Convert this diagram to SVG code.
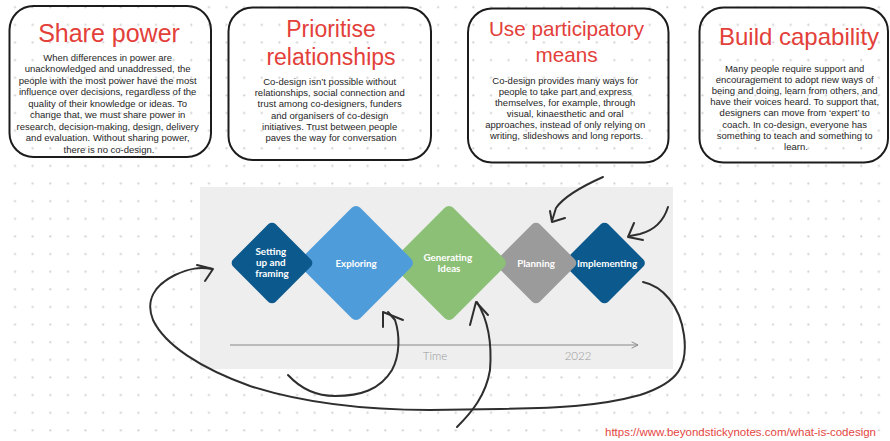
<svg xmlns="http://www.w3.org/2000/svg" width="890" height="441" viewBox="0 0 890 441">
  <defs>
    <pattern id="dots" x="0" y="0" width="17.63" height="17.63" patternUnits="userSpaceOnUse">
      <circle cx="15" cy="7.3" r="1.1" fill="#cfcfcf"/>
    </pattern>
    <marker id="timeHead" viewBox="0 0 10 10" refX="9" refY="5" markerWidth="8" markerHeight="8" orient="auto" markerUnits="userSpaceOnUse">
      <path d="M1,1 L9,5 L1,9" fill="none" stroke="#888" stroke-width="1.2"/>
    </marker>
  </defs>
  <style>
    .card { fill: none; stroke: #1c1c1c; stroke-width: 2; }
    .title { font-family: "Liberation Sans", Arial, sans-serif; fill: #e3403a; text-anchor: middle; }
    .body { font-family: "Liberation Sans", Arial, sans-serif; font-size: 9.5px; fill: #262626; text-anchor: middle; }
    .phase { font-family: Lato, "Open Sans", sans-serif; font-weight: 700; font-size: 9.8px; fill: #ffffff; text-anchor: middle; }
    .axis { font-family: Lato, "Open Sans", sans-serif; font-weight: 300; font-size: 11.5px; fill: #9a9a9a; text-anchor: middle; }
    .ink { fill: none; stroke: #2e2e2e; stroke-width: 2; stroke-linecap: round; stroke-linejoin: round; }
    .dark { fill: #0c5a8d; }
  </style>

  <!-- dotted canvas -->
  <rect width="890" height="441" fill="#ffffff"/>
  <rect width="890" height="441" fill="url(#dots)"/>

  <!-- principle cards -->
  <g id="share-power">
    <rect class="card" x="9.5" y="6" width="201.5" height="151" rx="24"/>
    <text class="title" x="109" y="42" font-size="25">Share power</text>
    <text class="body" x="109">
      <tspan x="109" y="60.5">When differences in power are</tspan>
      <tspan x="109" y="72">unacknowledged and unaddressed, the</tspan>
      <tspan x="109" y="83.5">people with the most power have the most</tspan>
      <tspan x="109" y="95">influence over decisions, regardless of the</tspan>
      <tspan x="109" y="106.5">quality of their knowledge or ideas. To</tspan>
      <tspan x="109" y="118">change that, we must share power in</tspan>
      <tspan x="109" y="129.5">research, decision-making, design, delivery</tspan>
      <tspan x="109" y="141">and evaluation. Without sharing power,</tspan>
      <tspan x="109" y="152.5">there is no co-design.</tspan>
    </text>
  </g>

  <g id="prioritise-relationships">
    <rect class="card" x="228.5" y="7.5" width="202.5" height="152.5" rx="24"/>
    <text class="title" x="331" y="37" font-size="23">Prioritise</text>
    <text class="title" x="331" y="65" font-size="23">relationships</text>
    <text class="body">
      <tspan x="331" y="85">Co-design isn’t possible without</tspan>
      <tspan x="331" y="96.2">relationships, social connection and</tspan>
      <tspan x="331" y="107.4">trust among co-designers, funders</tspan>
      <tspan x="331" y="118.6">and organisers of co-design</tspan>
      <tspan x="331" y="129.8">initiatives. Trust between people</tspan>
      <tspan x="331" y="141">paves the way for conversation</tspan>
    </text>
  </g>

  <g id="participatory-means">
    <rect class="card" x="468" y="8.5" width="200.5" height="154" rx="24"/>
    <text class="title" x="566.5" y="35.5" font-size="20.7">Use participatory</text>
    <text class="title" x="566.5" y="62" font-size="20.7">means</text>
    <text class="body">
      <tspan x="566.5" y="83.5">Co-design provides many ways for</tspan>
      <tspan x="566.5" y="94.6">people to take part and express</tspan>
      <tspan x="566.5" y="105.7">themselves, for example, through</tspan>
      <tspan x="566.5" y="116.8">visual, kinaesthetic and oral</tspan>
      <tspan x="566.5" y="127.9">approaches, instead of only relying on</tspan>
      <tspan x="566.5" y="139">writing, slideshows and long reports.</tspan>
    </text>
  </g>

  <g id="build-capability">
    <rect class="card" x="699.5" y="7.5" width="188.5" height="155" rx="24"/>
    <text class="title" x="799" y="45" font-size="24">Build capability</text>
    <text class="body">
      <tspan x="796" y="71.5">Many people require support and</tspan>
      <tspan x="796" y="82.7">encouragement to adopt new ways of</tspan>
      <tspan x="796" y="93.9">being and doing, learn from others, and</tspan>
      <tspan x="796" y="105.1">have their voices heard. To support that,</tspan>
      <tspan x="796" y="116.3">designers can move from ‘expert’ to</tspan>
      <tspan x="796" y="127.5">coach. In co-design, everyone has</tspan>
      <tspan x="796" y="138.7">something to teach and something to</tspan>
      <tspan x="796" y="149.9">learn.</tspan>
    </text>
  </g>

  <!-- process panel -->
  <g id="process-panel">
    <rect x="200" y="187" width="473" height="182" fill="#eeeeee"/>
    <line x1="230" y1="345" x2="638" y2="345" stroke="#888" stroke-width="1.2" marker-end="url(#timeHead)"/>
    <text class="axis" x="435" y="360">Time</text>
    <text class="axis" x="578" y="360">2022</text>
  </g>

  <!-- phases, drawn back to front so each earlier phase overlaps the next -->
  <g id="implementing">
    <rect class="dark" x="-30" y="-30" width="60" height="60" rx="5" transform="translate(604.5 263) rotate(45)"/>
    <text class="phase" x="607" y="266.5">Implementing</text>
  </g>
  <g id="planning">
    <rect x="-30" y="-30" width="60" height="60" rx="5" fill="#9b9b9b" transform="translate(536 263) rotate(45)"/>
    <text class="phase" x="536" y="266.5">Planning</text>
  </g>
  <g id="generating-ideas">
    <rect x="-42" y="-42" width="84" height="84" rx="6" fill="#8dc077" transform="translate(449 263) rotate(45)"/>
    <text class="phase">
      <tspan x="449" y="261">Generating</tspan>
      <tspan x="449" y="272">Ideas</tspan>
    </text>
  </g>
  <g id="exploring">
    <rect x="-42" y="-42" width="84" height="84" rx="6" fill="#4f9cda" transform="translate(356 263) rotate(45)"/>
    <text class="phase" x="356" y="266.5">Exploring</text>
  </g>
  <g id="setting-up">
    <rect class="dark" x="-30" y="-30" width="60" height="60" rx="5" transform="translate(272 263) rotate(45)"/>
    <text class="phase">
      <tspan x="272" y="255">Setting</tspan>
      <tspan x="272" y="266">up and</tspan>
      <tspan x="272" y="277">framing</tspan>
    </text>
  </g>

  <!-- hand-drawn connectors -->
  <g id="connectors">
    <!-- loop from Implementing back round to Setting up -->
    <path class="ink" d="M643,282 C662,286 680,305 684,335 C688,365 680,382 640,395 C600,406 560,408 500,409 L430,410 C360,410 300,402 250,386 C200,368 165,345 153,320 C145,300 155,285 175,275 C190,268 200,267 212,269"/>
    <path class="ink" d="M197,265 L213,269 L205,281"/>
    <!-- up into Exploring -->
    <path class="ink" d="M288,375 C300,388 315,396 335,396 C360,396 380,390 392,370 C400,355 400,335 395,320 L388,312"/>
    <path class="ink" d="M383,327 L383,312 L403,320"/>
    <!-- up into Generating Ideas -->
    <path class="ink" d="M457,427 C472,412 486,395 490,370 C492,345 488,320 477,302"/>
    <path class="ink" d="M470,325 L476,302 L488,315"/>
    <!-- down into Planning -->
    <path class="ink" d="M603,177 C585,185 565,195 556,208 L552,221"/>
    <path class="ink" d="M550,211 L552,222 L565,218"/>
    <!-- down into Implementing -->
    <path class="ink" d="M668,207 C664,220 655,230 640,234 L630,236"/>
    <path class="ink" d="M634,223 L628,237 L643,240"/>
  </g>

  <text x="876" y="436" font-family="&quot;Liberation Sans&quot;, Arial, sans-serif" font-size="11.5" fill="#e5463f" text-anchor="end">https://www.beyondstickynotes.com/what-is-codesign</text>
</svg>
